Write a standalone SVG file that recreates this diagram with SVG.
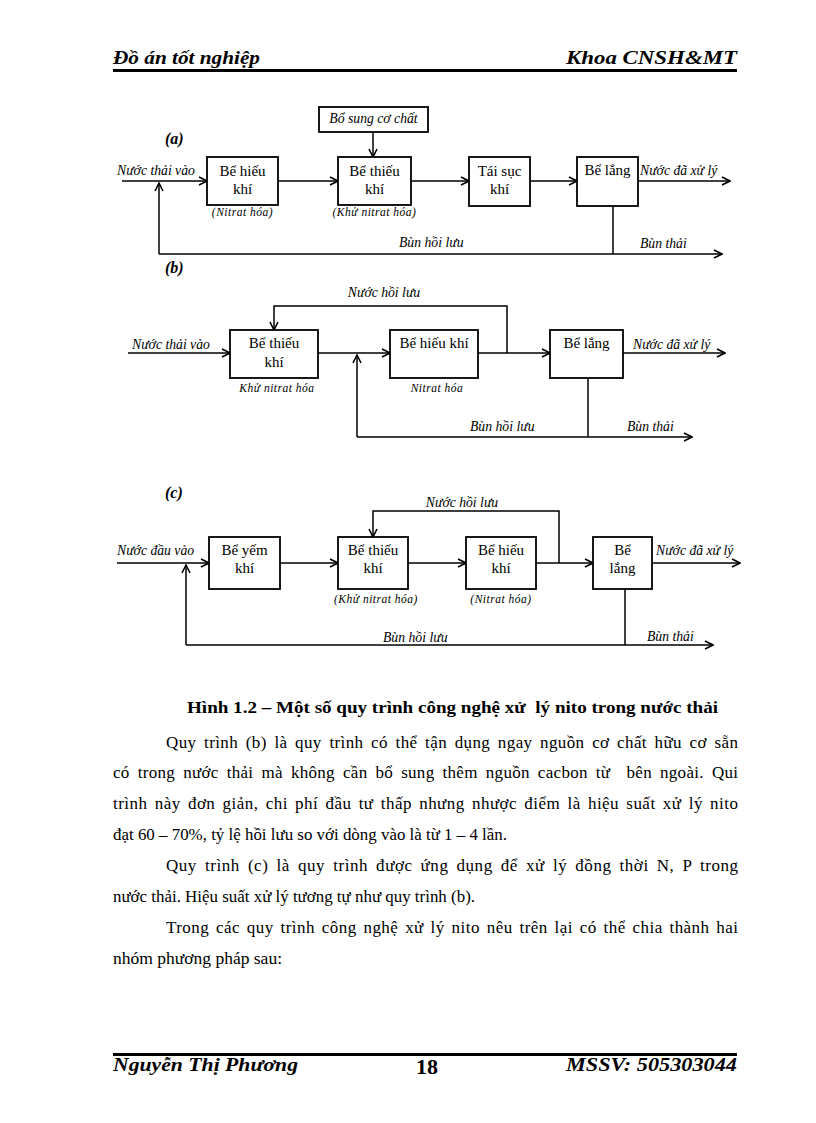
<svg xmlns="http://www.w3.org/2000/svg" width="816" height="1123" viewBox="0 0 816 1123">
<defs>
<marker id="arr" viewBox="0 0 10 10" refX="9" refY="5" markerWidth="10" markerHeight="10" markerUnits="userSpaceOnUse" orient="auto">
<path d="M1,1 L9,5 L1,9" fill="none" stroke="#000" stroke-width="1.6"/>
</marker>
<style>
.bx{fill:#fff;stroke:#000;stroke-width:1.8}
.ln{fill:none;stroke:#000;stroke-width:1.5}
.ar{fill:none;stroke:#000;stroke-width:1.5;marker-end:url(#arr)}
.bt{font-family:"Liberation Serif","Times New Roman",serif;font-size:15px;text-anchor:middle}
.it{font-family:"Liberation Serif","Times New Roman",serif;font-size:13.7px;font-style:italic}
.sub{font-family:"Liberation Serif","Times New Roman",serif;font-size:11.5px;font-style:italic;text-anchor:middle;letter-spacing:0.5px}
.lab{font-family:"Liberation Serif","Times New Roman",serif;font-size:16px;font-style:italic;font-weight:bold}
.body{font-family:"Liberation Serif","Times New Roman",serif;font-size:17px;white-space:pre}
.cap{font-family:"Liberation Serif","Times New Roman",serif;font-size:17.5px;font-weight:bold;white-space:pre}
.hd{font-family:"Liberation Serif","Times New Roman",serif;font-size:19px;font-style:italic;font-weight:bold}
</style>
</defs>
<rect width="816" height="1123" fill="#fff"/>

<!-- header / footer -->
<g id="header">
<text class="hd" x="113" y="64" textLength="147" lengthAdjust="spacingAndGlyphs">Đồ án tốt nghiệp</text>
<text class="hd" x="566" y="64" textLength="171" lengthAdjust="spacingAndGlyphs">Khoa CNSH&amp;MT</text>
<rect x="113" y="69" width="624" height="3" fill="#000"/>
</g>
<g id="footer">
<rect x="113" y="1053" width="624" height="3" fill="#000"/>
<text class="hd" x="113" y="1071" textLength="185" lengthAdjust="spacingAndGlyphs">Nguyễn Thị Phương</text>
<text x="427" y="1074" text-anchor="middle" font-family="'Liberation Serif',serif" font-size="22" font-weight="bold">18</text>
<text class="hd" x="566" y="1071" textLength="171" lengthAdjust="spacingAndGlyphs">MSSV: 505303044</text>
</g>

<!-- ===== (a) ===== -->
<text class="lab" x="165" y="144">(a)</text>
<g id="connectors-a">
<line class="ar" x1="122" y1="181" x2="207" y2="181"/>
<line class="ar" x1="278" y1="181" x2="338" y2="181"/>
<line class="ar" x1="373" y1="132" x2="373" y2="157"/>
<line class="ar" x1="411" y1="181" x2="469" y2="181"/>
<line class="ar" x1="530" y1="181" x2="577" y2="181"/>
<line class="ar" x1="638" y1="181" x2="730" y2="181"/>
<line class="ln" x1="613" y1="206" x2="613" y2="254"/>
<line class="ar" x1="159" y1="254" x2="722" y2="254"/>
<polyline class="ar" points="159,254 159,183"/>
</g>
<g id="a-bosung"><rect class="bx" x="319" y="107" width="109" height="25"/><text class="it" x="373.5" y="123" text-anchor="middle" font-size="14">Bổ sung cơ chất</text></g>
<g id="a-hieukhi"><rect class="bx" x="207" y="157" width="71" height="48"/><text class="bt" x="242.5" y="176">Bể hiếu</text><text class="bt" x="242.5" y="194">khí</text><text class="sub" x="242.5" y="216">(Nitrat hóa)</text></g>
<g id="a-thieukhi"><rect class="bx" x="338" y="157" width="73" height="48"/><text class="bt" x="374.5" y="176">Bể thiếu</text><text class="bt" x="374.5" y="194">khí</text><text class="sub" x="374.5" y="216">(Khử nitrat hóa)</text></g>
<g id="a-taisuc"><rect class="bx" x="469" y="157" width="61" height="49"/><text class="bt" x="499.5" y="176">Tái sục</text><text class="bt" x="499.5" y="194">khí</text></g>
<g id="a-lang"><rect class="bx" x="577" y="157" width="61" height="49"/><text class="bt" x="607.5" y="175">Bể lắng</text></g>
<text class="it" x="117" y="175">Nước thải vào</text>
<text class="it" x="640" y="175">Nước đã xử lý</text>
<text class="it" x="399" y="247">Bùn hồi lưu</text>
<text class="it" x="640" y="248">Bùn thải</text>

<!-- ===== (b) ===== -->
<text class="lab" x="165" y="273">(b)</text>
<g id="connectors-b">
<line class="ar" x1="128" y1="353" x2="230" y2="353"/>
<line class="ar" x1="318" y1="353" x2="390" y2="353"/>
<line class="ar" x1="478" y1="353" x2="550" y2="353"/>
<polyline class="ar" points="507,353 507,306 274,306 274,330"/>
<line class="ar" x1="623" y1="353" x2="725" y2="353"/>
<line class="ln" x1="588" y1="378" x2="588" y2="437"/>
<line class="ar" x1="357" y1="437" x2="692" y2="437"/>
<polyline class="ar" points="357,437 357,355"/>
</g>
<g id="b-thieukhi"><rect class="bx" x="230" y="330" width="88" height="48"/><text class="bt" x="274" y="348">Bể thiếu</text><text class="bt" x="274" y="367">khí</text><text class="sub" x="277" y="392" letter-spacing="0">Khử nitrat hóa</text></g>
<g id="b-hieukhi"><rect class="bx" x="390" y="330" width="88" height="48"/><text class="bt" x="434" y="348">Bể hiếu khí</text><text class="sub" x="437" y="392" letter-spacing="0">Nitrat hóa</text></g>
<g id="b-lang"><rect class="bx" x="550" y="330" width="73" height="48"/><text class="bt" x="586.5" y="348">Bể lắng</text></g>
<text class="it" x="132" y="349">Nước thải vào</text>
<text class="it" x="384" y="297" text-anchor="middle">Nước hồi lưu</text>
<text class="it" x="633" y="349">Nước đã xử lý</text>
<text class="it" x="470" y="431">Bùn hồi lưu</text>
<text class="it" x="627" y="431">Bùn thải</text>

<!-- ===== (c) ===== -->
<text class="lab" x="165" y="498">(c)</text>
<g id="connectors-c">
<line class="ar" x1="117" y1="563" x2="209" y2="563"/>
<line class="ar" x1="280" y1="563" x2="338" y2="563"/>
<line class="ar" x1="408" y1="563" x2="466" y2="563"/>
<line class="ar" x1="536" y1="563" x2="593" y2="563"/>
<polyline class="ar" points="559,563 559,511 373,511 373,537"/>
<line class="ar" x1="652" y1="563" x2="740" y2="563"/>
<line class="ln" x1="625" y1="589" x2="625" y2="645"/>
<line class="ar" x1="186" y1="645" x2="713" y2="645"/>
<polyline class="ar" points="186,645 186,565"/>
</g>
<g id="c-yemkhi"><rect class="bx" x="209" y="537" width="71" height="52"/><text class="bt" x="244.5" y="555">Bể yếm</text><text class="bt" x="244.5" y="573">khí</text></g>
<g id="c-thieukhi"><rect class="bx" x="338" y="537" width="70" height="52"/><text class="bt" x="373" y="555">Bể thiếu</text><text class="bt" x="373" y="573">khí</text><text class="sub" x="376" y="603">(Khử nitrat hóa)</text></g>
<g id="c-hieukhi"><rect class="bx" x="466" y="537" width="70" height="52"/><text class="bt" x="501" y="555">Bể hiếu</text><text class="bt" x="501" y="573">khí</text><text class="sub" x="501" y="603">(Nitrat hóa)</text></g>
<g id="c-lang"><rect class="bx" x="593" y="537" width="59" height="52"/><text class="bt" x="622.5" y="555">Bể</text><text class="bt" x="622.5" y="573">lắng</text></g>
<text class="it" x="117" y="555">Nước đầu vào</text>
<text class="it" x="462" y="507" text-anchor="middle">Nước hồi lưu</text>
<text class="it" x="656" y="555">Nước đã xử lý</text>
<text class="it" x="383" y="642">Bùn hồi lưu</text>
<text class="it" x="647" y="641">Bùn thải</text>

<!-- caption and body text -->
<text class="cap" x="187" y="713" textLength="531" lengthAdjust="spacingAndGlyphs">Hình 1.2 – Một số quy trình công nghệ xử  lý nito trong nước thải</text>
<text class="body" x="166" y="748" word-spacing="3" textLength="572">Quy trình (b) là quy trình có thể tận dụng ngay nguồn cơ chất hữu cơ sẵn</text>
<text class="body" x="113" y="778" word-spacing="3.5" textLength="625">có trong nước thải mà không cần bổ sung thêm nguồn cacbon từ  bên ngoài. Qui</text>
<text class="body" x="113" y="809" word-spacing="2.5" textLength="625">trình này đơn giản, chi phí đầu tư thấp nhưng nhược điểm là hiệu suất xử lý nito</text>
<text class="body" x="113" y="840" textLength="394" lengthAdjust="spacingAndGlyphs">đạt 60 – 70%, tỷ lệ hồi lưu so với dòng vào là từ 1 – 4 lần.</text>
<text class="body" x="166" y="871" word-spacing="3.3" textLength="572">Quy trình (c) là quy trình được ứng dụng để xử lý đồng thời N, P trong</text>
<text class="body" x="113" y="902" textLength="362" lengthAdjust="spacingAndGlyphs">nước thải. Hiệu suất xử lý tương tự như quy trình (b).</text>
<text class="body" x="166" y="933" word-spacing="2.2" textLength="572">Trong các quy trình công nghệ xử lý nito nêu trên lại có thể chia thành hai</text>
<text class="body" x="113" y="964" textLength="169" lengthAdjust="spacingAndGlyphs">nhóm phương pháp sau:</text>
</svg>
